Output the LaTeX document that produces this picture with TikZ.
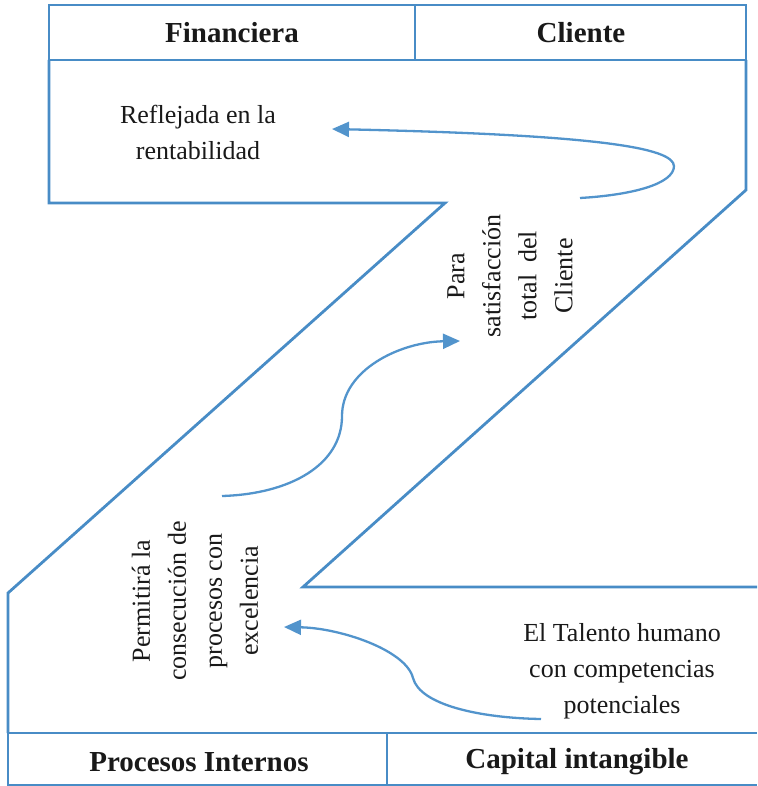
\documentclass[tikz,border=0pt]{standalone}
\usepackage{fontspec}
\setmainfont{Liberation Serif}
\usetikzlibrary{arrows.meta}
\definecolor{zline}{RGB}{72,140,198}
\definecolor{flow}{RGB}{82,148,204}
\definecolor{ink}{RGB}{25,25,25}
\tikzset{
  outline/.style={draw=zline, line width=2.8pt, line join=miter},
  header/.style={font=\fontsize{29}{34}\selectfont\bfseries, text=ink, inner sep=0pt},
  body/.style={font=\fontsize{26}{36}\selectfont, text=ink, align=center, inner sep=0pt},
  vbody/.style={body, rotate=90},
  flowarrow/.style={draw=flow, line width=2.3pt, -{Triangle[length=17pt,width=15pt]}}
}
\begin{document}
\begin{tikzpicture}[x=1pt,y=-1pt]
\useasboundingbox (0,0) rectangle (757,786);

% top header strip
\draw[outline] (49,5) rectangle (746,60);
\draw[outline] (415,5) -- (415,60);
\node[header] (fin) at (232,33) {Financiera};
\node[header] (cli) at (581,33) {Cliente};

% the Z-shaped band
\draw[outline] (49,60) -- (49,203) -- (445,203) -- (8,593) -- (8,733);
\draw[outline] (746,60) -- (746,190) -- (303,587) -- (757,587);

% bottom header strip
\draw[outline] (8,733) -- (757,733);
\draw[outline] (8,733) -- (8,786);
\draw[outline] (8,785) -- (757,785);
\draw[outline] (387,733) -- (387,786);
\node[header] (proc) at (199,762) {Procesos Internos};
\node[header] (cap) at (577,762) {Capital intangible};

% texts
\node[body] (refl) at (198,132) {Reflejada en la\\rentabilidad};
\node[vbody] (sat) at (510,276) {Para\\satisfacción\\total\hspace{0.45em}del\\Cliente};
\node[vbody] (perm) at (195,601) {Permitirá la\\consecución de\\procesos con\\excelencia};
\node[body] (tal) at (622,671) {El Talento humano\\con competencias\\potenciales};

% arrow end points
\coordinate (a1s) at (580,198);
\coordinate (a1e) at (332,129);
\coordinate (a2s) at (222,496);
\coordinate (a2e) at (460,341);
\coordinate (a3s) at (541,719);
\coordinate (a3e) at (284,627);

% flows
\draw[flowarrow] (a1s) .. controls (632,195) and (674,184) .. (674,166)
  .. controls (673,148) and (600,135) .. (a1e);
\draw[flowarrow] (a2s) .. controls (290,494) and (342,465) .. (342,416)
  .. controls (342,370) and (400,342) .. (a2e);
\draw[flowarrow] (a3s) .. controls (480,718) and (420,705) .. (413,678)
  .. controls (406,650) and (340,628) .. (a3e);
\end{tikzpicture}
\end{document}
